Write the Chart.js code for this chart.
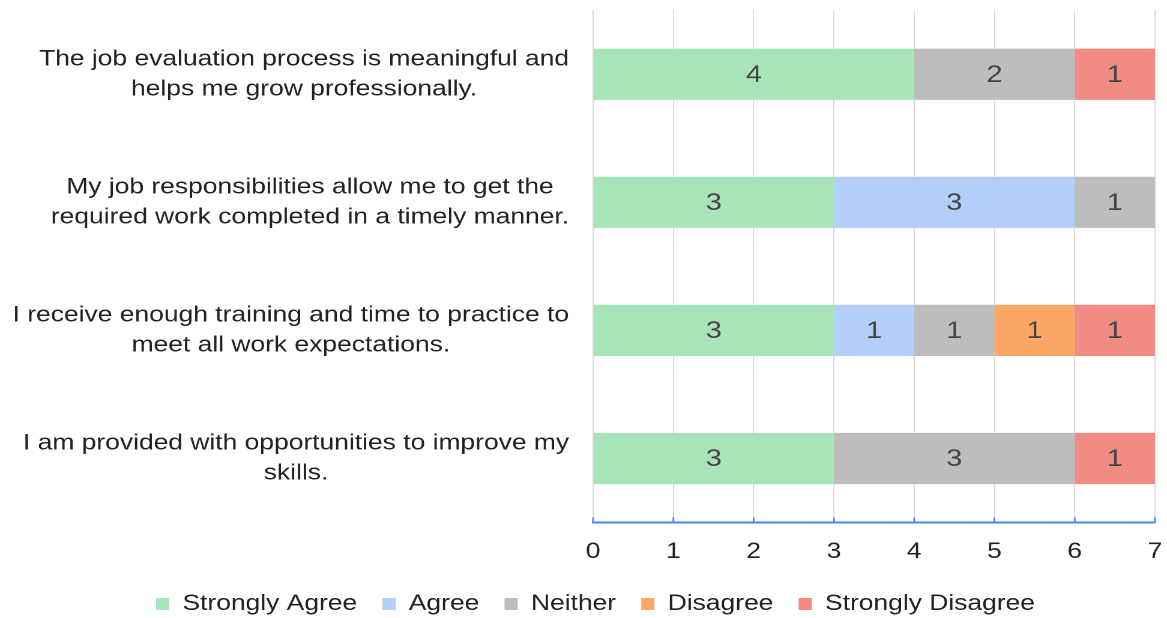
<!DOCTYPE html>
<html>
<head>
<meta charset="utf-8">
<script src="https://cdn.jsdelivr.net/npm/chart.js@4/dist/chart.umd.min.js"></script>
<style>
  html, body { margin: 0; padding: 0; background: #fff; overflow: hidden; }
  #wrap { position: absolute; left: 0; top: 0; width: 972px; height: 618px;
          transform: scaleX(1.2006); transform-origin: 0 0; }
</style>
</head>
<body>
<div id="wrap"><canvas id="c"></canvas></div>
<script>
const categories = [
  ["The job evaluation process is meaningful and", "helps me grow professionally."],
  ["My job responsibilities allow me to get the", "required work completed in a timely manner."],
  ["I receive enough training and time to practice to", "meet all work expectations."],
  ["I am provided with opportunities to improve my", "skills."]
];
const seriesNames = ["Strongly Agree", "Agree", "Neither", "Disagree", "Strongly Disagree"];
const stronglyAgree    = [4, 3, 3, 3];
const agree            = [0, 3, 1, 0];
const neither          = [2, 1, 1, 3];
const disagree         = [0, 0, 1, 0];
const stronglyDisagree = [1, 0, 1, 1];
const xTicks = [0, 1, 2, 3, 4, 5, 6, 7];
const seriesColors = ["#a8e4b9", "#b3cefb", "#bdbdbd", "#fda767", "#f28b82"];

const FONT = '"Liberation Sans", Arial, sans-serif';
const seriesData = [stronglyAgree, agree, neither, disagree, stronglyDisagree];

const textPlugin = {
  id: 'textPlugin',
  afterDatasetsDraw(chart) {
    const ctx = chart.ctx;
    ctx.save();
    ctx.font = '24px ' + FONT;
    ctx.fillStyle = '#444444';
    ctx.textAlign = 'center';
    ctx.textBaseline = 'middle';
    chart.data.datasets.forEach((ds, di) => {
      const meta = chart.getDatasetMeta(di);
      meta.data.forEach((bar, i) => {
        const v = ds.data[i];
        if (!v) return;
        ctx.fillText(String(v), (bar.x + bar.base) / 2, bar.y + 1);
      });
    });
    // blue tick marks on axis
    const xs = chart.scales.x;
    ctx.strokeStyle = '#4a86e8';
    ctx.lineWidth = 1.5;
    xTicks.forEach(t => {
      const px = xs.getPixelForValue(t);
      ctx.beginPath();
      ctx.moveTo(px, xs.top - 5);
      ctx.lineTo(px, xs.top);
      ctx.stroke();
    });
    // y category labels: block right-aligned, lines centered
    const ys = chart.scales.y;
    ctx.font = '22px ' + FONT;
    ctx.fillStyle = '#222222';
    const rightEdge = ys.right - 20;
    categories.forEach((lines, i) => {
      const cy = ys.getPixelForTick(i);
      const w = Math.max(...lines.map(l => ctx.measureText(l).width));
      const cx = rightEdge - w / 2;
      const lh = 30;
      const y0 = cy - (lines.length - 1) * lh / 2;
      lines.forEach((l, k) => ctx.fillText(l, cx, y0 + k * lh));
    });
    ctx.restore();
  }
};

new Chart(document.getElementById('c'), {
  type: 'bar',
  data: {
    labels: categories,
    datasets: seriesNames.map((name, i) => ({
      label: name,
      data: seriesData[i],
      backgroundColor: seriesColors[i],
      borderWidth: 0,
      categoryPercentage: 0.8,
      barPercentage: 0.5
    }))
  },
  options: {
    indexAxis: 'y',
    responsive: true,
    maintainAspectRatio: false,
    animation: false,
    devicePixelRatio: 2,
    layout: { padding: { left: 30, right: 10, top: 8, bottom: -7 } },
    plugins: {
      tooltip: { enabled: false },
      legend: {
        position: 'bottom',
        labels: {
          font: { family: FONT, size: 22 },
          color: '#222222',
          boxWidth: 11,
          boxHeight: 12,
          padding: 21
        }
      }
    },
    scales: {
      x: {
        stacked: true,
        min: 0, max: 7,
        afterBuildTicks(scale) { scale.ticks = xTicks.map(v => ({ value: v })); },
        afterFit(scale) { scale.height = 49.5; scale.paddingRight = 0; scale.paddingLeft = 0; },
        grid: { color: '#d9d9d9', lineWidth: 1, drawTicks: false },
        border: { display: true, color: '#4a86e8', width: 2 },
        ticks: { font: { family: FONT, size: 22 }, color: '#222222', padding: 16 }
      },
      y: {
        stacked: true,
        afterFit(scale) { scale.width = 464; },
        grid: { display: false },
        border: { display: false },
        ticks: { display: true, color: 'rgba(0,0,0,0)', callback: () => '' }
      }
    }
  },
  plugins: [textPlugin]
});
</script>
</body>
</html>
